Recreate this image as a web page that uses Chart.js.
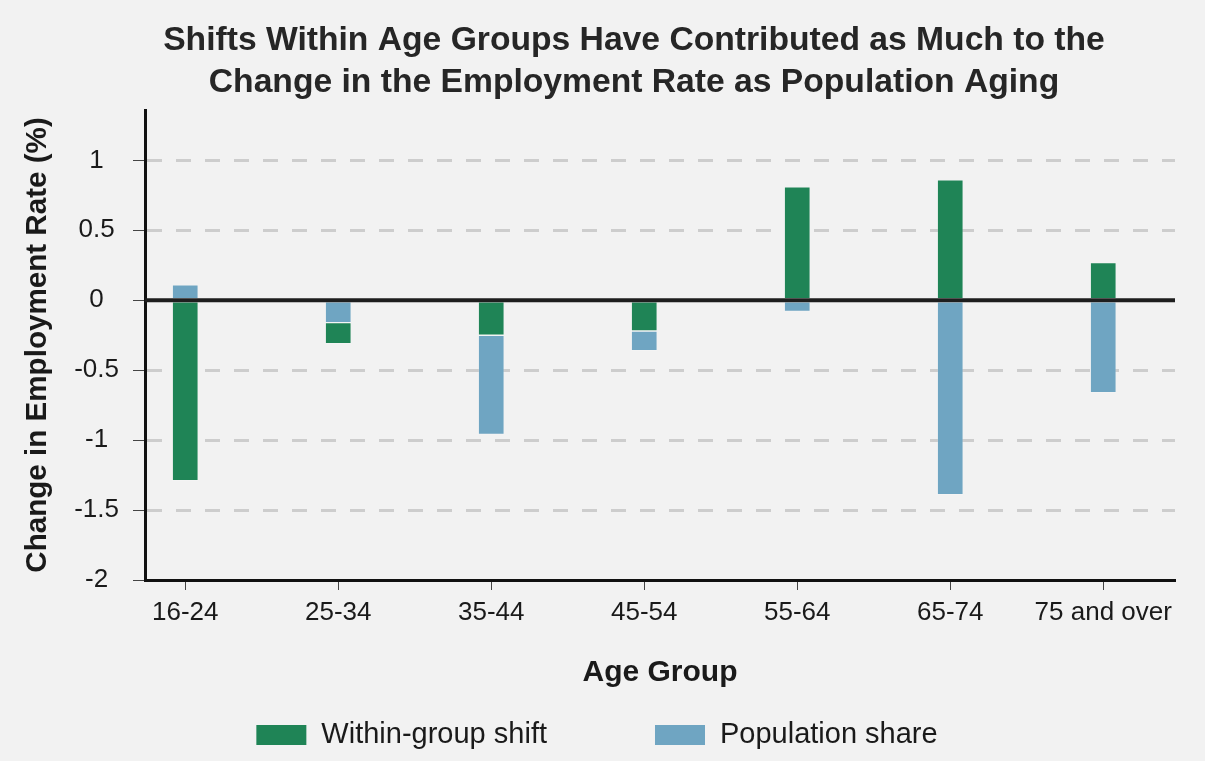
<!DOCTYPE html>
<html><head><meta charset="utf-8">
<script src="https://cdn.jsdelivr.net/npm/chart.js@4.4.1/dist/chart.umd.min.js"></script>
<style>html,body{margin:0;padding:0;background:#f2f2f2;} #wrap{width:1205px;height:761px;}</style>
</head><body><div id="wrap"><canvas id="c" width="1205" height="761"></canvas></div>
<script>
const categories = ['16-24', '25-34', '35-44', '45-54', '55-64', '65-74', '75 and over'];
const withinGroupShift = [-1.29, -0.31, -0.25, -0.22, 0.81, 0.86, 0.27];
const populationShare = [0.11, -0.16, -0.96, -0.36, -0.08, -1.39, -0.66];
const yTickValues = [-2, -1.5, -1, -0.5, 0, 0.5, 1];
const seriesNames = ['Within-group shift', 'Population share'];
const titleLines = ['Shifts Within Age Groups Have Contributed as Much to the', 'Change in the Employment Rate as Population Aging'];
const xTitle = 'Age Group';
const yTitle = 'Change in Employment Rate (%)';

const FONT = "'Liberation Sans', Arial, sans-serif";
const GREEN = '#1f8456';
const BLUE = '#6fa5c2';
const TEXT = '#1a1a1a';

// The smaller bar of a same-sign pair sits next to zero, the larger one continues past it.
function segments(own, other) {
  return own.map((v, i) => {
    const o = other[i];
    const sameSign = (v < 0) === (o < 0);
    if (sameSign && Math.abs(o) < Math.abs(v)) return { x: i, y: [o, v] };
    return { x: i, y: [0, v] };
  });
}

const zeroLine = {
  id: 'zeroLine',
  afterDatasetsDraw(chart) {
    const { ctx, chartArea: { left, right }, scales: { y } } = chart;
    const py = y.getPixelForValue(0);
    ctx.save();
    ctx.strokeStyle = '#1e1e1e';
    ctx.lineWidth = 4;
    ctx.beginPath();
    ctx.moveTo(left, py);
    ctx.lineTo(right, py);
    ctx.stroke();
    ctx.restore();
  }
};

const titleAndLegend = {
  id: 'titleAndLegend',
  afterDraw(chart) {
    const ctx = chart.ctx;
    ctx.save();
    // title
    ctx.font = `bold 100px ${FONT}`;
    const w = ctx.measureText(titleLines[0]).width;
    const size = Math.min(34, 100 * 942 / w);
    ctx.font = `bold ${size}px ${FONT}`;
    ctx.fillStyle = '#262626';
    ctx.textAlign = 'center';
    ctx.textBaseline = 'middle';
    ctx.fillText(titleLines[0], 634, 41);
    ctx.fillText(titleLines[1], 634, 83);
    // legend
    ctx.font = `29px ${FONT}`;
    ctx.textAlign = 'left';
    const boxW = 50, boxH = 20, gap = 15, itemGap = 108;
    const items = chart.data.datasets.map(d => ({ label: d.label, color: d.backgroundColor, tw: ctx.measureText(d.label).width }));
    const total = items.reduce((s, it) => s + boxW + gap + it.tw, 0) + itemGap * (items.length - 1);
    let x = 597 - total / 2;
    const cy = 735;
    items.forEach(it => {
      ctx.fillStyle = it.color;
      ctx.fillRect(x, cy - boxH / 2, boxW, boxH);
      x += boxW + gap;
      ctx.fillStyle = TEXT;
      ctx.fillText(it.label, x, cy);
      x += it.tw + itemGap;
    });
    ctx.restore();
  }
};

new Chart(document.getElementById('c'), {
  type: 'bar',
  data: {
    datasets: [
      { label: seriesNames[0], data: segments(withinGroupShift, populationShare), backgroundColor: GREEN,
        borderColor: 'rgba(255,255,255,0.15)', borderWidth: 1, borderSkipped: false, barThickness: 26, grouped: false },
      { label: seriesNames[1], data: segments(populationShare, withinGroupShift), backgroundColor: BLUE,
        borderColor: 'rgba(255,255,255,0.15)', borderWidth: 1, borderSkipped: false, barThickness: 26, grouped: false }
    ]
  },
  options: {
    responsive: false,
    animation: false,
    layout: { padding: { top: 110, left: 0, right: 30, bottom: 70 } },
    plugins: { legend: { display: false }, tooltip: { enabled: false }, title: { display: false } },
    scales: {
      x: {
        type: 'linear', min: -0.263, max: 6.469, offset: false,
        afterBuildTicks: s => { s.ticks = categories.map((_, i) => ({ value: i })); },
        afterFit: s => { s.height = 111; },
        ticks: { callback: v => categories[v], font: { family: FONT, size: 26 }, color: TEXT, padding: 7, maxRotation: 0, autoSkip: false },
        grid: { offset: false, drawOnChartArea: false, drawTicks: true, tickLength: 10, tickColor: '#444', tickWidth: 1 },
        border: { display: true, color: '#111', width: 3 },
        title: { display: true, text: xTitle, font: { family: FONT, size: 30, weight: 'bold' }, color: TEXT, padding: { top: 0, bottom: 0 } }
      },
      y: {
        min: -2, max: 1.36,
        afterBuildTicks: s => { s.ticks = yTickValues.map(v => ({ value: v })); },
        afterFit: s => { s.width = 145; },
        ticks: { callback: v => String(v), font: { family: FONT, size: 26 }, color: TEXT, padding: 14, crossAlign: 'center' },
        grid: { color: '#cdcdcd', lineWidth: 3, drawTicks: true, tickLength: 12, tickColor: '#444', tickWidth: 1 },
        border: { display: true, color: '#111', width: 3, dash: ctx => (ctx.type === 'tick' ? [15, 14] : []) },
        title: { display: true, text: yTitle, font: { family: FONT, size: 29.6, weight: 'bold' }, color: TEXT, padding: { top: 20, bottom: 0 } }
      }
    }
  },
  plugins: [zeroLine, titleAndLegend]
});
</script></body></html>
